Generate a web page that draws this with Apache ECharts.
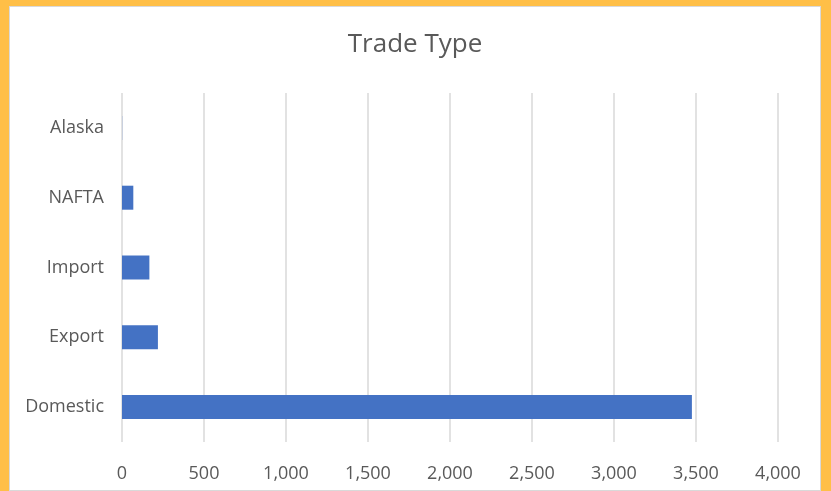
<!DOCTYPE html>
<html>
<head>
<meta charset="utf-8">
<script src="https://cdn.jsdelivr.net/npm/echarts@6/dist/echarts.min.js"></script>
<style>
  html, body { margin: 0; padding: 0; background: #FFBF47; }
  #frame {
    position: absolute; left: 9px; top: 6px; width: 812px; height: 485px;
    background: #fff; border: 1px solid #d9d9d9; box-sizing: border-box;
  }
  #chart { width: 100%; height: 100%; }
</style>
</head>
<body>
<div id="frame"><div id="chart"></div></div>
<script>
// categories, bottom to top
const categories = ['Domestic', 'Export', 'Import', 'NAFTA', 'Alaska'];
const counts = [3475, 219, 167, 69, 1];
const xTicks = { min: 0, max: 4000, interval: 500 };

const chart = echarts.init(document.getElementById('chart'));
chart.setOption({
  animation: false,
  textStyle: { fontFamily: 'Open Sans' },
  title: {
    text: 'Trade Type',
    left: 'center',
    top: 20,
    textStyle: { fontSize: 26, fontWeight: 'normal', color: '#595959', fontFamily: 'Open Sans' }
  },
  grid: { left: 112, right: 42, top: 86, bottom: 48 },
  xAxis: {
    type: 'value',
    min: xTicks.min,
    max: xTicks.max,
    interval: xTicks.interval,
    axisLine: { show: false },
    axisTick: { show: false },
    axisLabel: {
      color: '#595959', fontSize: 18, margin: 23,
      formatter: v => v.toLocaleString('en-US')
    },
    splitLine: { lineStyle: { color: '#d9d9d9', width: 1.5 } }
  },
  yAxis: {
    type: 'category',
    data: categories,
    axisLine: { show: false },
    axisTick: { show: false },
    axisLabel: { color: '#595959', fontSize: 18, margin: 18 }
  },
  series: [{
    type: 'bar',
    data: counts,
    barWidth: 24,
    itemStyle: { color: '#4472C4' }
  }]
});
</script>
</body>
</html>
